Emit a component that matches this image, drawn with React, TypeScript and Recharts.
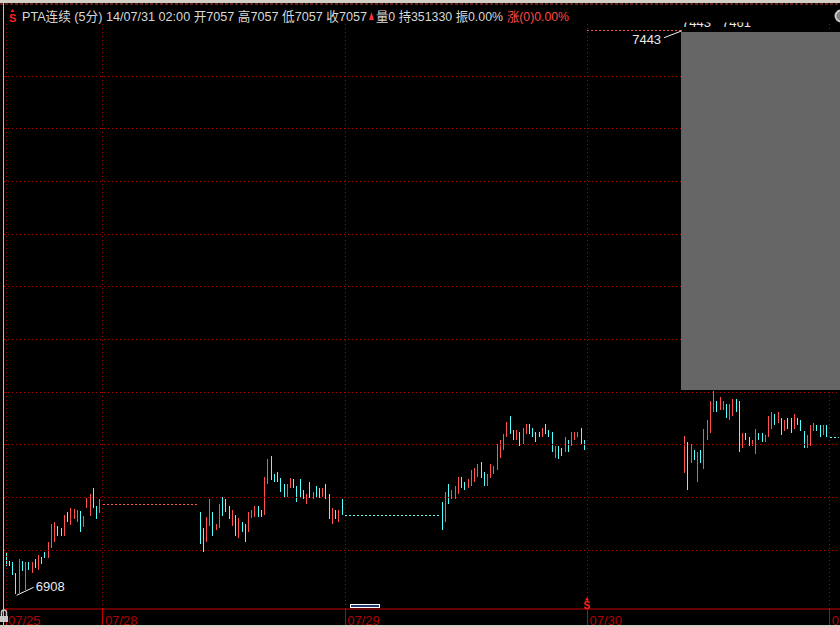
import * as React from 'react';
import { ComposedChart, Bar, XAxis, YAxis, ReferenceLine, ReferenceDot } from 'recharts';

const dayLabels = ['07/25', '07/28', '07/29', '07/30', '07/31'];
const dayStarts = [0, 30, 105, 180, 255];
const barCount = 259;
const gridPrices = [6950, 7000, 7050, 7100, 7150, 7200, 7250, 7300, 7350, 7400];

// 5分K线, 每个交易日的成交部分 (u = 阳线, d = 阴线)
const start0725 = 0;
const high0725 = [6948, 6940, 6939, 6928, 6941, 6940, 6939, 6939, 6939, 6941, 6945, 6943, 6948, 6958, 6975, 6977, 6973, 6971, 6983, 6986, 6990, 6989, 6988, 6987, 6982, 6999, 7003, 7009, 6992, 6998];
const low0725 = [6935, 6935, 6926, 6908, 6909, 6930, 6912, 6931, 6928, 6933, 6931, 6937, 6942, 6942, 6952, 6958, 6963, 6963, 6963, 6977, 6974, 6979, 6977, 6967, 6972, 6990, 6982, 6990, 6979, 6985];
const dir0725 = 'ddddu dudud udduu uddud uuudu uuddu';

const start0728 = 60;
const high0728 = [6986, 6971, 6981, 6998, 6986, 6975, 6994, 7000, 6998, 6992, 6988, 6983, 6980, 6977, 6975, 6986, 6988, 6992, 6992, 6988, 7019, 7036, 7039, 7022, 7024, 7018, 7013, 7013, 7018, 7017, 7011, 7017, 7007, 7003, 7015, 7005, 7011, 7009, 7009, 7013, 7003, 6990, 6988, 6988, 6998];
const low0728 = [6956, 6948, 6958, 6973, 6963, 6969, 6971, 6982, 6986, 6979, 6973, 6963, 6961, 6967, 6958, 6967, 6980, 6981, 6981, 6981, 6983, 7013, 7016, 7015, 7015, 7005, 6999, 7000, 7009, 7009, 6996, 6999, 6998, 6994, 6999, 6998, 7000, 6999, 7000, 6998, 6979, 6975, 6979, 6977, 6983];
const dir0728 = 'dduud uuddd ududd uuudd uuddd dduud dddud uddud dudud';

const start0729 = 135;
const high0729 = [6996, 7005, 7013, 7007, 7011, 7019, 7019, 7015, 7017, 7026, 7028, 7032, 7034, 7024, 7022, 7032, 7030, 7051, 7054, 7060, 7072, 7077, 7064, 7064, 7062, 7066, 7070, 7070, 7066, 7062, 7062, 7066, 7070, 7064, 7062, 7049, 7049, 7047, 7057, 7054, 7062, 7062, 7062, 7066, 7054];
const low0729 = [6969, 6977, 6994, 6998, 6998, 7003, 7009, 7007, 7009, 7011, 7015, 7019, 7018, 7011, 7011, 7018, 7022, 7026, 7037, 7045, 7057, 7060, 7054, 7054, 7049, 7051, 7060, 7060, 7057, 7053, 7057, 7057, 7060, 7057, 7043, 7037, 7036, 7039, 7043, 7043, 7049, 7054, 7057, 7051, 7045];
const dir0729 = 'duduu udduu uuddu uuuuu uddud uuddd duddd uddud uuudd';

const start0730 = 210;
const high0730 = [7058, 7053, 7051, 7045, 7043, 7045, 7065, 7073, 7091, 7101, 7091, 7095, 7091, 7089, 7089, 7093, 7093, 7091, 7061, 7061, 7057, 7054, 7065, 7061, 7061, 7059, 7077, 7081, 7079, 7081, 7075, 7073, 7075, 7075, 7079, 7075, 7073, 7063, 7059, 7069, 7071, 7069, 7069, 7069, 7069];
const low0730 = [7023, 7007, 7033, 7035, 7015, 7033, 7027, 7054, 7061, 7081, 7081, 7083, 7083, 7075, 7073, 7077, 7081, 7043, 7047, 7054, 7049, 7049, 7041, 7054, 7053, 7053, 7057, 7065, 7069, 7071, 7059, 7063, 7065, 7061, 7065, 7069, 7063, 7047, 7047, 7049, 7063, 7063, 7057, 7059, 7057];
const dir0730 = 'ududu duuuu duudu uddud duudd uuudu duddu ddduu uddud';

// 无成交时段 (价格持平, 虚线)
const flatFrom = [30, 105, 180, 255];
const flatTo = [59, 134, 209, 258];
const flatPrice = [6993, 6983, 7443, 7057];
const flatUp = [true, false, true, false];

const UP = '#ff5050';
const DOWN = '#54ffff';
const GRID = '#b40000';
const FONT = '"Liberation Sans", Arial, "Noto Sans CJK SC", sans-serif';

type Row = { i: number; high?: number; low?: number; up?: boolean; range?: [number, number] };

const rows: Row[] = Array.from({ length: barCount }, (_, i) => ({ i }));
[
  { start: start0725, high: high0725, low: low0725, dir: dir0725 },
  { start: start0728, high: high0728, low: low0728, dir: dir0728 },
  { start: start0729, high: high0729, low: low0729, dir: dir0729 },
  { start: start0730, high: high0730, low: low0730, dir: dir0730 },
].forEach((d) => {
  const dirs = d.dir.replace(/ /g, '');
  d.high.forEach((h, k) => {
    const i = d.start + k;
    rows[i] = { i, high: h, low: d.low[k], up: dirs[k] === 'u', range: [d.low[k], h] };
  });
});

const minLow = Math.min(...rows.filter((r) => r.low != null).map((r) => r.low as number));
const minIdx = rows.findIndex((r) => r.low === minLow);
const maxIdx = flatTo[2];
const maxPrice = flatPrice[2];

function Candle(props: any) {
  const { x, y, width, height, payload } = props;
  if (!payload || payload.high == null || x == null || isNaN(y)) return <g />;
  const cx = Math.floor(x + width / 2);
  const top = Math.round(y);
  const h = Math.max(1, Math.round(y + height) - top);
  return <rect x={cx} y={top} width={1} height={h} fill={payload.up ? UP : DOWN} />;
}

function DateTick(props: any) {
  const { x, payload } = props;
  const idx = dayStarts.indexOf(payload.value);
  return (
    <g>
      <line x1={Math.floor(x) + 0.5} y1={609} x2={Math.floor(x) + 0.5} y2={627} stroke="#c80000" />
      <text x={x + 2} y={625} fill="#b00000" fontSize={13} fontFamily={FONT}>
        {dayLabels[idx]}
      </text>
    </g>
  );
}

export default function App() {
  return (
    <div style={{ position: 'absolute', left: 0, top: 0, width: 840, height: 627, overflow: 'hidden', background: '#000' }}>
      <ComposedChart width={841} height={627} data={rows} margin={{ top: 23.35, right: 0, left: 4.385, bottom: 0 }}>
        <XAxis
          dataKey="i"
          height={18}
          ticks={dayStarts}
          interval={0}
          tick={<DateTick />}
          tickLine={false}
          axisLine={{ stroke: '#c80000' }}
        />
        <YAxis hide type="number" domain={[6894, 7450]} allowDataOverflow />
        {gridPrices.map((p) => (
          <ReferenceLine key={`h${p}`} y={p} stroke={GRID} strokeDasharray="1 3" shapeRendering="crispEdges" />
        ))}
        {dayStarts.map((d) => (
          <ReferenceLine key={`v${d}`} x={d} stroke={GRID} strokeDasharray="1 3" shapeRendering="crispEdges" />
        ))}
        {flatFrom.map((f, k) => (
          <ReferenceLine
            key={`f${f}`}
            segment={[{ x: f, y: flatPrice[k] }, { x: flatTo[k], y: flatPrice[k] }]}
            stroke={flatUp[k] ? UP : DOWN}
            strokeDasharray="2 2"
            shapeRendering="crispEdges"
          />
        ))}
        <Bar dataKey="range" shape={<Candle />} isAnimationActive={false} />
        <ReferenceDot
          x={minIdx}
          y={minLow}
          r={0}
          isFront
          shape={(p: any) => (
            <g>
              <line x1={p.cx + 1} y1={p.cy + 1} x2={p.cx + 18} y2={p.cy - 7} stroke="#f0f0f0" />
              <text x={p.cx + 20} y={p.cy - 3} fill="#e8e8e8" fontSize={13} fontFamily={FONT}>
                {minLow}
              </text>
            </g>
          )}
        />
        <ReferenceDot
          x={maxIdx}
          y={maxPrice}
          r={0}
          isFront
          shape={(p: any) => (
            <g>
              <line x1={p.cx + 1} y1={p.cy} x2={p.cx - 17} y2={p.cy + 7} stroke="#f0f0f0" />
              <text x={p.cx - 20} y={p.cy + 13} textAnchor="end" fill="#e8e8e8" fontSize={13} fontFamily={FONT}>
                {maxPrice}
              </text>
            </g>
          )}
        />
      </ComposedChart>

      <svg width={840} height={627} style={{ position: 'absolute', left: 0, top: 0, pointerEvents: 'none' }}>
        <defs>
          <clipPath id="topClip">
            <rect x={0} y={22.5} width={840} height={10} />
          </clipPath>
        </defs>
        {/* 窗口边框 */}
        <rect x={0} y={0} width={840} height={3} fill="#d4d0c8" />
        <line x1={0} y1={4} x2={840} y2={4} stroke="#c04040" strokeDasharray="3 2" />
        <rect x={0} y={625} width={840} height={2} fill="#d4d0c8" />
        <line x1={3.5} y1={3} x2={3.5} y2={627} stroke="#c0c0c0" />

        {/* 标题 */}
        <polygon points="10.5,12 12.5,9 14.5,12" fill="#ff2020" />
        <text x={9} y={21.5} fill="#ff2020" fontSize={11} fontWeight="bold" fontFamily={FONT}>S</text>
        <text x={22} y={21} fill="#d8d8d8" fontSize={13} fontFamily={FONT} textLength={345} lengthAdjust="spacingAndGlyphs">
          PTA连续 (5分) 14/07/31 02:00 开7057 高7057 低7057 收7057
        </text>
        <polygon points="369,20 371.5,12 374,20" fill="#ff3030" />
        <text x={376} y={21} fill="#d8d8d8" fontSize={13} fontFamily={FONT} textLength={127} lengthAdjust="spacingAndGlyphs">
          量0 持351330 振0.00%
        </text>
        <text x={507} y={21} fill="#ff4848" fontSize={13} fontFamily={FONT} textLength={62} lengthAdjust="spacingAndGlyphs">
          涨(0)0.00%
        </text>
        <circle cx={841} cy={16} r={5.5} fill="#808080" stroke="#c8c8c8" strokeWidth={2} />

        {/* 被遮挡的价格提示 */}
        <g clipPath="url(#topClip)">
          <text x={682} y={27} fill="#e8e8e8" fontSize={13} fontFamily={FONT}>7443</text>
          <text x={722} y={27} fill="#e8e8e8" fontSize={13} fontFamily={FONT}>7461</text>
        </g>

        {/* 弹出窗口 */}
        <rect x={681} y={32} width={159} height={358} fill="#666666" />

        {/* 底部标记 */}
        <polygon points="585,600.5 587,597 589,600.5" fill="#ff2020" />
        <text x={583.5} y={608.5} fill="#ff2020" fontSize={10} fontWeight="bold" fontFamily={FONT}>S</text>
        <rect x={350.5} y={604.5} width={29} height={3} fill="#203a70" stroke="#ffffff" />
        <path d="M1.5 616 V612.5 a2.5 2.5 0 0 1 5 0 V616" fill="none" stroke="#c8c8c8" strokeWidth={1.5} />
        <rect x={0} y={616} width={8} height={6} fill="#c8c8c8" />
      </svg>
    </div>
  );
}
